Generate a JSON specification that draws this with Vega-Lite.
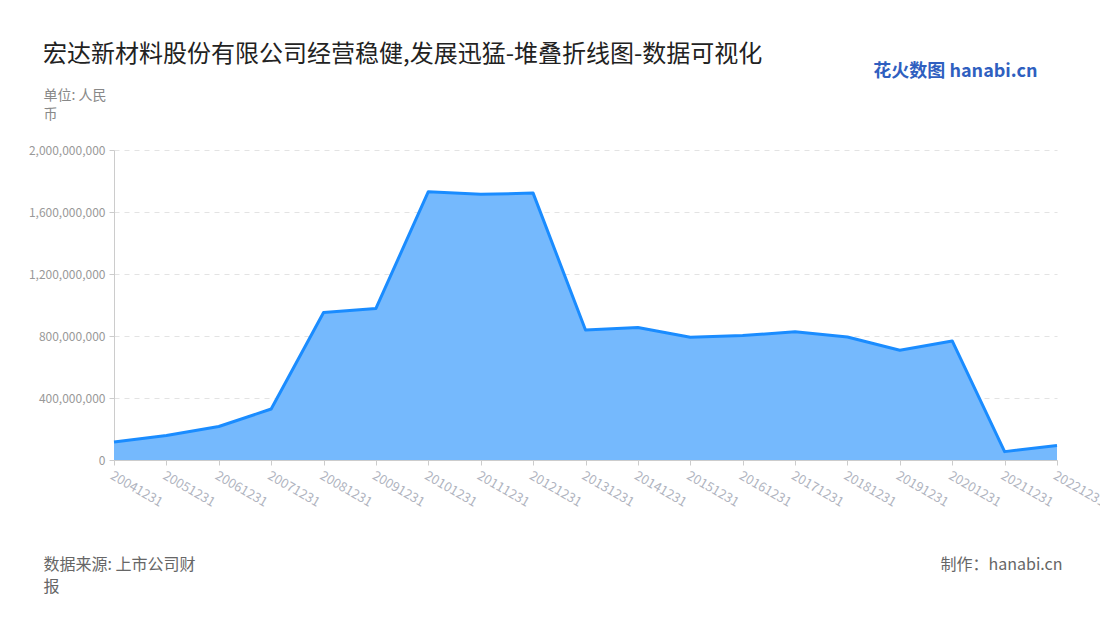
{
  "$schema": "https://vega.github.io/schema/vega-lite/v6.json",
  "width": 943,
  "height": 310,
  "autosize": {"type": "none"},
  "padding": {"left": 114, "top": 150, "right": 43, "bottom": 160},
  "background": "white",
  "config": {
    "font": "Noto Sans CJK SC",
    "view": {"stroke": null}
  },
  "title": {
    "text": "宏达新材料股份有限公司经营稳健,发展迅猛-堆叠折线图-数据可视化",
    "anchor": "start",
    "frame": "group",
    "orient": "top",
    "dx": -71,
    "offset": 0,
    "dy": 29,
    "baseline": "bottom",
    "fontSize": 24,
    "fontWeight": "normal",
    "color": "#222222",
    "font": "Noto Sans CJK SC"
  },
  "data": {
    "values": [
      {"date": "20041231", "value": 116000000},
      {"date": "20051231", "value": 158000000},
      {"date": "20061231", "value": 216000000},
      {"date": "20071231", "value": 329000000},
      {"date": "20081231", "value": 952000000},
      {"date": "20091231", "value": 978000000},
      {"date": "20101231", "value": 1731000000},
      {"date": "20111231", "value": 1714000000},
      {"date": "20121231", "value": 1722000000},
      {"date": "20131231", "value": 839000000},
      {"date": "20141231", "value": 855000000},
      {"date": "20151231", "value": 792000000},
      {"date": "20161231", "value": 803000000},
      {"date": "20171231", "value": 827000000},
      {"date": "20181231", "value": 794000000},
      {"date": "20191231", "value": 708000000},
      {"date": "20201231", "value": 768000000},
      {"date": "20211231", "value": 54000000},
      {"date": "20221231", "value": 93000000}
    ]
  },
  "layer": [
    {
      "mark": {
        "type": "area",
        "color": "#75b9fd",
        "opacity": 1,
        "line": {"color": "#1a8cff", "strokeWidth": 3, "strokeJoin": "round"}
      },
      "encoding": {
        "x": {
          "field": "date",
          "type": "ordinal",
          "scale": {"type": "point", "padding": 0},
          "axis": {
            "orient": "bottom",
            "labelAngle": 30,
            "labelAlign": "left",
            "labelBaseline": "top",
            "labelFontSize": 13,
            "labelColor": "#b0b4c0",
            "labelPadding": 4,
            "labelOverlap": false,
            "domainColor": "#cccccc",
            "domainWidth": 1,
            "tickColor": "#cccccc",
            "tickSize": 5,
            "grid": false,
            "title": ["数据来源: 上市公司财", "报"],
            "titleFontSize": 16,
            "titleFontWeight": "normal",
            "titleColor": "#666666",
            "titleAnchor": "start",
            "titleAlign": "left",
            "titleBaseline": "top",
            "titleLineHeight": 22,
            "titleX": -71,
            "titleY": 96
          }
        },
        "y": {
          "field": "value",
          "type": "quantitative",
          "scale": {"domain": [0, 2000000000]},
          "axis": {
            "values": [0, 400000000, 800000000, 1200000000, 1600000000, 2000000000],
            "labelExpr": "format(datum.value, ',.0f')",
            "labelFontSize": 12,
            "labelColor": "#999999",
            "labelPadding": 4,
            "domainColor": "#cccccc",
            "tickColor": "#cccccc",
            "tickSize": 5,
            "grid": true,
            "gridColor": "#e3e3e3",
            "gridDash": [5, 5],
            "title": ["单位: 人民", "币"],
            "titleAngle": 0,
            "titleFontSize": 14,
            "titleFontWeight": "normal",
            "titleColor": "#888888",
            "titleAlign": "left",
            "titleBaseline": "top",
            "titleLineHeight": 19,
            "titleX": -71,
            "titleY": -62
          }
        }
      }
    },
    {
      "mark": {"type": "line", "opacity": 0},
      "encoding": {
        "x": {
          "field": "date",
          "type": "ordinal",
          "scale": {"type": "point", "padding": 0},
          "axis": {
            "orient": "top",
            "labels": false,
            "ticks": false,
            "domain": false,
            "grid": false,
            "title": "花火数图 hanabi.cn",
            "titleFontSize": 18,
            "titleFontWeight": "bold",
            "titleColor": "#2f5fc0",
            "titleAlign": "right",
            "titleBaseline": "bottom",
            "titleX": 923,
            "titleY": -70
          }
        },
        "y": {
          "field": "value",
          "type": "quantitative",
          "scale": {"domain": [0, 2000000000]},
          "axis": {
            "orient": "right",
            "labels": false,
            "ticks": false,
            "domain": false,
            "grid": false,
            "title": "制作：hanabi.cn",
            "titleAngle": 0,
            "titleFontSize": 16,
            "titleFontWeight": "normal",
            "titleColor": "#666666",
            "titleAlign": "right",
            "titleBaseline": "top",
            "titleX": 5,
            "titleY": 406
          }
        }
      }
    }
  ],
  "resolve": {"axis": {"x": "independent", "y": "independent"}}
}
